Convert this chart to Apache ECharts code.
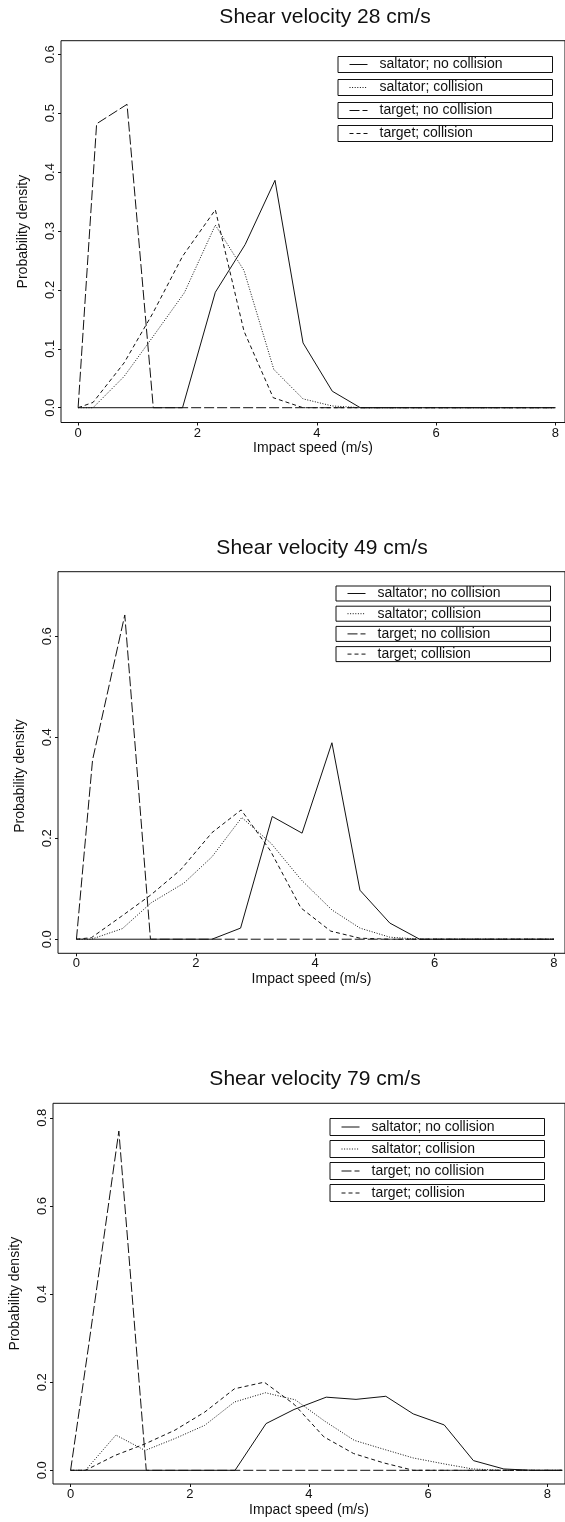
<!DOCTYPE html>
<html>
<head>
<meta charset="utf-8">
<script src="https://cdn.jsdelivr.net/npm/echarts@6/dist/echarts.min.js"></script>
<style>
html,body{margin:0;padding:0;background:#fff;}
#c{width:565px;height:1522px;}
</style>
</head>
<body>
<div id="c"></div>
<script>
// ---------- text ----------
const seriesNames = ['saltator; no collision', 'saltator; collision', 'target; no collision', 'target; collision'];
const panelTitles = ['Shear velocity 28 cm/s', 'Shear velocity 49 cm/s', 'Shear velocity 79 cm/s'];
const xAxisTitle = 'Impact speed (m/s)';
const yAxisTitle = 'Probability density';
const xTickValues = [0, 2, 4, 6, 8];
const yTickValues28 = [0, 0.1, 0.2, 0.3, 0.4, 0.5, 0.6];
const yTickValues49 = [0, 0.2, 0.4, 0.6];
const yTickValues79 = [0, 0.2, 0.4, 0.6, 0.8];

// ---------- data: shear velocity 28 cm/s ----------
const u28_saltNoColl_x = [0, 1.75, 2.3, 2.8, 3.3, 3.77, 4.26, 4.73, 8];
const u28_saltNoColl_y = [0, 0, 0.196, 0.277, 0.386, 0.11, 0.028, 0, 0];
const u28_saltColl_x = [0, 0.25, 0.77, 1.25, 1.78, 2.3, 2.78, 3.28, 3.77, 4.26, 4.73, 8];
const u28_saltColl_y = [0, 0, 0.053, 0.12, 0.195, 0.31, 0.233, 0.065, 0.015, 0.003, 0, 0];
const u28_targNoColl_x = [0, 0.31, 0.82, 1.26, 8];
const u28_targNoColl_y = [0, 0.482, 0.515, 0, 0];
const u28_targColl_x = [0, 0.25, 0.77, 1.25, 1.75, 2.3, 2.78, 3.27, 3.77, 8];
const u28_targColl_y = [0, 0.009, 0.076, 0.16, 0.257, 0.336, 0.13, 0.017, 0, 0];

// ---------- data: shear velocity 49 cm/s ----------
const u49_saltNoColl_x = [0, 2.27, 2.75, 3.28, 3.78, 4.28, 4.75, 5.25, 5.75, 8];
const u49_saltNoColl_y = [0, 0, 0.022, 0.243, 0.21, 0.389, 0.097, 0.032, 0, 0];
const u49_saltColl_x = [0, 0.25, 0.77, 1.25, 1.8, 2.27, 2.77, 3.26, 3.77, 4.28, 4.75, 5.25, 5.75, 8];
const u49_saltColl_y = [0, 0, 0.021, 0.072, 0.111, 0.163, 0.241, 0.19, 0.117, 0.058, 0.022, 0.004, 0, 0];
const u49_targNoColl_x = [0, 0.27, 0.81, 1.24, 8];
const u49_targNoColl_y = [0, 0.355, 0.642, 0, 0];
const u49_targColl_x = [0, 0.25, 0.75, 1.25, 1.75, 2.27, 2.76, 3.25, 3.76, 4.26, 4.75, 5.25, 8];
const u49_targColl_y = [0, 0.003, 0.045, 0.088, 0.138, 0.211, 0.256, 0.175, 0.062, 0.016, 0.002, 0, 0];

// ---------- data: shear velocity 79 cm/s ----------
const u79_saltNoColl_x = [0, 2.76, 3.28, 3.75, 4.29, 4.79, 5.29, 5.75, 6.27, 6.76, 7.27, 7.75, 8.25];
const u79_saltNoColl_y = [0, 0, 0.106, 0.138, 0.166, 0.161, 0.168, 0.128, 0.103, 0.022, 0.003, 0, 0];
const u79_saltColl_x = [0, 0.25, 0.76, 1.25, 1.75, 2.25, 2.75, 3.27, 3.77, 4.26, 4.76, 5.25, 5.75, 6.25, 6.75, 7.25, 8.25];
const u79_saltColl_y = [0, 0, 0.08, 0.045, 0.072, 0.102, 0.155, 0.176, 0.16, 0.112, 0.068, 0.048, 0.028, 0.015, 0.003, 0, 0];
const u79_targNoColl_x = [0, 0.3, 0.81, 1.27, 8.25];
const u79_targNoColl_y = [0, 0.28, 0.77, 0, 0];
const u79_targColl_x = [0, 0.25, 0.75, 1.25, 1.75, 2.25, 2.75, 3.25, 3.75, 4.25, 4.75, 5.25, 5.75, 8.25];
const u79_targColl_y = [0, 0, 0.034, 0.06, 0.091, 0.132, 0.185, 0.2, 0.15, 0.076, 0.038, 0.017, 0, 0];

// ---------- build ----------
const zip = (xs, ys) => xs.map((x, i) => [x, ys[i]]);
const panelData = [
  [[u28_saltNoColl_x, u28_saltNoColl_y], [u28_saltColl_x, u28_saltColl_y], [u28_targNoColl_x, u28_targNoColl_y], [u28_targColl_x, u28_targColl_y]],
  [[u49_saltNoColl_x, u49_saltNoColl_y], [u49_saltColl_x, u49_saltColl_y], [u49_targNoColl_x, u49_targNoColl_y], [u49_targColl_x, u49_targColl_y]],
  [[u79_saltNoColl_x, u79_saltNoColl_y], [u79_saltColl_x, u79_saltColl_y], [u79_targNoColl_x, u79_targNoColl_y], [u79_targColl_x, u79_targColl_y]]
];
const yTicks = [yTickValues28, yTickValues49, yTickValues79];

const FONT = '"Liberation Sans", Arial, Helvetica, sans-serif';
const INK = '#111';
const dashes = ['solid', [1, 1.6], [10, 3], [4, 3]];

// layout (pixels)
const layout = [
  { grid: { left: 61, top: 40.7, width: 509, height: 381.8 }, x: [-0.287, 8.161], y: [-0.0251, 0.623],
    title: { x: 325, y: 7 }, legend: { left: 338, top: 56.5, pitch: 23, pad: 1 }, yNamePad: 0 },
  { grid: { left: 58, top: 571.7, width: 512, height: 381.6 }, x: [-0.309, 8.185], y: [-0.0279, 0.7277],
    title: { x: 322, y: 538 }, legend: { left: 336, top: 586, pitch: 20.2, pad: 0.5 }, yNamePad: 27 },
  { grid: { left: 51.5, top: 1103.3, width: 518.5, height: 380.7 }, x: [-0.295, 8.297], y: [-0.0311, 0.833],
    title: { x: 315, y: 1069 }, legend: { left: 330, top: 1118.5, pitch: 22, pad: 1.5 }, yNamePad: 0 }
];

const option = {
  animation: false,
  backgroundColor: '#fff',
  textStyle: { fontFamily: FONT, color: INK },
  title: [], grid: [], xAxis: [], yAxis: [], legend: [], series: []
};

layout.forEach((L, p) => {
  option.title.push({
    text: panelTitles[p], left: L.title.x, top: L.title.y, textAlign: 'center', padding: 0,
    textStyle: { fontFamily: FONT, fontSize: 21, fontWeight: 'normal', color: INK }
  });
  option.grid.push(Object.assign({ show: true, borderColor: INK, borderWidth: 1, backgroundColor: 'transparent', containLabel: false }, L.grid));
  option.xAxis.push({
    type: 'value', gridIndex: p, min: L.x[0], max: L.x[1], position: 'bottom',
    name: xAxisTitle, nameLocation: 'middle', nameGap: 19,
    nameTextStyle: { fontFamily: FONT, fontSize: 14, color: INK },
    axisLine: { show: false, onZero: false },
    axisTick: { show: true, inside: false, length: 3, customValues: xTickValues, lineStyle: { color: INK } },
    axisLabel: { show: true, margin: 4, customValues: xTickValues, fontFamily: FONT, fontSize: 13, color: INK,
      formatter: v => String(v) },
    splitLine: { show: false }
  });
  option.yAxis.push({
    type: 'value', gridIndex: p, min: L.y[0], max: L.y[1], position: 'left',
    name: yAxisTitle, nameLocation: 'middle', nameGap: 31,
    nameTextStyle: { fontFamily: FONT, fontSize: 14, color: INK, padding: [0, L.yNamePad, 0, 0] },
    axisLine: { show: false, onZero: false },
    axisTick: { show: true, inside: false, length: 3, customValues: yTicks[p], lineStyle: { color: INK } },
    axisLabel: { show: true, margin: 4, rotate: 90, customValues: yTicks[p], fontFamily: FONT, fontSize: 13, color: INK,
      formatter: v => v.toFixed(1) },
    splitLine: { show: false }
  });
  seriesNames.forEach((nm, s) => {
    option.legend.push({
      data: [nm], left: L.legend.left, top: L.legend.top + s * L.legend.pitch,
      orient: 'vertical', selectedMode: false,
      itemWidth: 18, itemHeight: 14,
      borderColor: INK, borderWidth: 1, backgroundColor: '#fff',
      padding: [L.legend.pad, 3, L.legend.pad, 11],
      itemStyle: { color: 'rgba(0,0,0,0)', borderWidth: 0, opacity: 0 },
      lineStyle: { width: 1, color: INK, type: dashes[s] },
      textStyle: { fontFamily: FONT, fontSize: 14, color: INK, lineHeight: 14, width: 170, padding: [0, 0, 0, 7] }
    });
    const d = panelData[p][s];
    option.series.push({
      type: 'line', name: nm, xAxisIndex: p, yAxisIndex: p,
      data: zip(d[0], d[1]),
      symbol: 'none', showSymbol: false, silent: true,
      lineStyle: { color: INK, width: 1, type: dashes[s] },
      itemStyle: { color: INK },
      z: 2
    });
  });
});

const chart = echarts.init(document.getElementById('c'), null, { renderer: 'canvas', width: 565, height: 1522 });
chart.setOption(option);
</script>
</body>
</html>
